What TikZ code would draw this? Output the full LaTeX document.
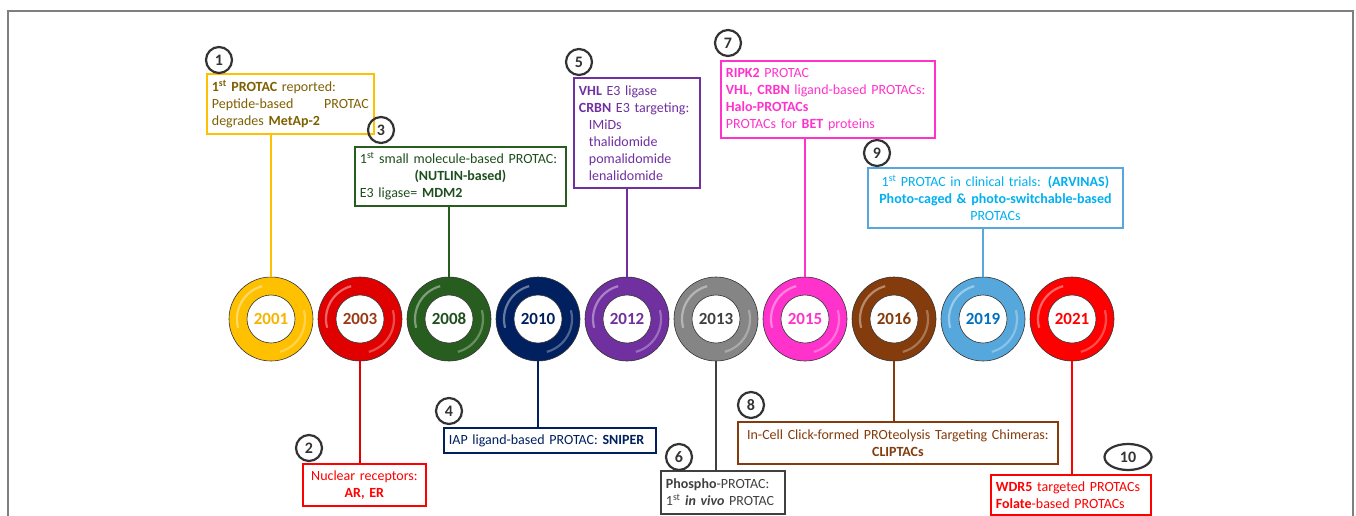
\documentclass[tikz,border=0pt]{standalone}
\usepackage{fontspec}
\setmainfont{Carlito}
\usetikzlibrary{shapes.geometric}

\definecolor{cGold}{HTML}{FFC000}
\definecolor{cGoldTxt}{HTML}{F5B400}
\definecolor{cOlive}{HTML}{7F6000}
\definecolor{cRedA}{HTML}{E00000}
\definecolor{cRust}{HTML}{9A3A14}
\definecolor{cGreen}{HTML}{275E1F}
\definecolor{cGreenTxt}{HTML}{1E4F1E}
\definecolor{cNavy}{HTML}{002060}
\definecolor{cPurple}{HTML}{7030A0}
\definecolor{cGray}{HTML}{858585}
\definecolor{cGrayTxt}{HTML}{404040}
\definecolor{cMagenta}{HTML}{FF33CC}
\definecolor{cBrown}{HTML}{843C0C}
\definecolor{cSky}{HTML}{56A8DC}
\definecolor{cSkyTxt}{HTML}{00B0F0}
\definecolor{cBlueTxt}{HTML}{0070C0}
\definecolor{cRed}{HTML}{FF0000}
\definecolor{cNum}{HTML}{333333}
\definecolor{cFrame}{HTML}{7F7F7F}

\tikzset{
  evbox/.style={draw=#1, line width=1.8pt, inner xsep=5pt, inner ysep=3pt,
    align=left, anchor=north west, fill=white,
    font=\fontsize{14}{17}\selectfont},
  numc/.style={circle, draw=cNum, line width=2.2pt, minimum size=26pt,
    inner sep=0pt, text=cNum, font=\fontsize{16}{16}\selectfont\bfseries},
  rim/.style={circle, draw=black!80, line width=0.6pt, fill=#1,
    minimum size=84pt, inner sep=0pt,
    path picture={
      \draw[white, opacity=0.4, line width=2.2pt]
        ([shift={(105:34pt)}]path picture bounding box.center)
        arc[start angle=105, end angle=195, radius=34pt];
      \draw[white, opacity=0.3, line width=2.2pt]
        ([shift={(285:34pt)}]path picture bounding box.center)
        arc[start angle=285, end angle=375, radius=34pt];}},
  hole/.style={circle, draw=black!80, line width=0.6pt, fill=white,
    minimum size=48pt, inner sep=0pt, text=#1,
    font=\fontsize{17}{17}\selectfont\bfseries},
  link/.style={draw=#1, line width=1.6pt},
}

\begin{document}
\begin{tikzpicture}[x=1pt, y=-1pt]
	\useasboundingbox (0,0) rectangle (1356,516);
	\draw[cFrame, line width=1.5pt] (8,516) -- (8,11) -- (1353,11) -- (1353,516);

	% the timeline
	\node[rim=cGold] (r2001) at (271,319) {};
	\node[hole=cGoldTxt] (y2001) at (r2001) {2001};
	\node[rim=cRedA] (r2003) at (360,319) {};
	\node[hole=cRust] (y2003) at (r2003) {2003};
	\node[rim=cGreen] (r2008) at (449,319) {};
	\node[hole=cGreenTxt] (y2008) at (r2008) {2008};
	\node[rim=cNavy] (r2010) at (538,319) {};
	\node[hole=cNavy] (y2010) at (r2010) {2010};
	\node[rim=cPurple] (r2012) at (627,319) {};
	\node[hole=cPurple] (y2012) at (r2012) {2012};
	\node[rim=cGray] (r2013) at (716,319) {};
	\node[hole=cGrayTxt] (y2013) at (r2013) {2013};
	\node[rim=cMagenta] (r2015) at (805,319) {};
	\node[hole=cMagenta] (y2015) at (r2015) {2015};
	\node[rim=cBrown] (r2016) at (894,319) {};
	\node[hole=cBrown] (y2016) at (r2016) {2016};
	\node[rim=cSky] (r2019) at (983,319) {};
	\node[hole=cBlueTxt] (y2019) at (r2019) {2019};
	\node[rim=cRed] (r2021) at (1072,319) {};
	\node[hole=cRed] (y2021) at (r2021) {2021};

	% boxes above
	\node[evbox=cGold, text=cOlive, text width=157pt, minimum height=60pt] (b1) at (206,73)
		{\textbf{1\textsuperscript{st} PROTAC} reported:\\ Peptide-based\hfill PROTAC\\ degrades \textbf{MetAp-2}};
	\node[numc] (n1) at (219,60) {1};
	\node[evbox=cGreen, text=cGreenTxt, text width=201pt, minimum height=59pt] (b3) at (354,146)
		{1\textsuperscript{st} small molecule-based PROTAC:\\ \leavevmode\hbox to \hsize{\hfil\textbf{(NUTLIN-based)}\hfil}\\ E3 ligase= \textbf{MDM2}};
	\node[numc] (n3) at (381,130) {3};
	\node[evbox=cPurple, text=cPurple, text width=116pt, minimum height=110pt] (b5) at (573,77)
		{\textbf{VHL} E3 ligase\\ \textbf{CRBN} E3 targeting:\\ \hspace*{10pt}IMiDs\\ \hspace*{10pt}thalidomide\\ \hspace*{10pt}pomalidomide\\ \hspace*{10pt}lenalidomide};
	\node[numc] (n5) at (579,62) {5};
	\node[evbox=cMagenta, text=cMagenta, text width=204pt, minimum height=77pt] (b7) at (720,60)
		{\textbf{RIPK2} PROTAC\\ \textbf{VHL, CRBN} ligand-based PROTACs:\\ \textbf{Halo-PROTACs}\\ PROTACs for \textbf{BET} proteins};
	\node[numc] (n7) at (728,43) {7};
	\node[evbox=cSky, text=cSkyTxt, align=center, text width=245pt, minimum height=60pt] (b9) at (867,167)
		{1\textsuperscript{st} PROTAC in clinical trials: \textbf{(ARVINAS)}\\ \textbf{Photo-caged \& photo-switchable-based}\\ PROTACs};
	\node[numc] (n9) at (877,153) {9};

	% boxes below
	\node[evbox=cRed, text=cRed, align=center, text width=113pt, minimum height=42pt] (b2) at (302,463)
		{Nuclear receptors:\\ \textbf{AR, ER}};
	\node[numc] (n2) at (309,448) {2};
	\node[evbox=cNavy, text=cNavy, text width=202pt, minimum height=25pt] (b4) at (443,427)
		{IAP ligand-based PROTAC: \textbf{SNIPER}};
	\node[numc] (n4) at (449,411) {4};
	\node[evbox=cGrayTxt, text=cGrayTxt, text width=114pt, minimum height=43pt] (b6) at (660,470)
		{\textbf{Phospho}-PROTAC:\\ 1\textsuperscript{st} \textbf{\textit{in vivo}} PROTAC};
	\node[numc] (n6) at (679,457) {6};
	\node[evbox=cBrown, text=cBrown, align=center, text width=310pt, minimum height=42pt] (b8) at (737,421)
		{In-Cell Click-formed PROteolysis Targeting Chimeras:\\ \textbf{CLIPTACs}};
	\node[numc] (n8) at (751,405) {8};
	\node[evbox=cRed, text=cRed, text width=150pt, minimum height=40pt] (b10) at (990,474)
		{\textbf{WDR5} targeted PROTACs\\ \textbf{Folate}-based PROTACs};
	\node[numc, ellipse, minimum width=47pt, minimum height=26pt] (n10) at (1128,457) {10};

	% links
	\draw[link=cGold] (r2001.north) -- (r2001.north |- b1.south);
	\draw[link=cGreen] (r2008.north) -- (r2008.north |- b3.south);
	\draw[link=cPurple] (r2012.north) -- (r2012.north |- b5.south);
	\draw[link=cMagenta] (r2015.north) -- (r2015.north |- b7.south);
	\draw[link=cSky] (r2019.north) -- (r2019.north |- b9.south);
	\draw[link=cRedA] (r2003.south) -- (r2003.south |- b2.north);
	\draw[link=cNavy] (r2010.south) -- (r2010.south |- b4.north);
	\draw[link=cGrayTxt] (r2013.south) -- (r2013.south |- b6.north);
	\draw[link=cBrown] (r2016.south) -- (r2016.south |- b8.north);
	\draw[link=cRed] (r2021.south) -- (r2021.south |- b10.north);
\end{tikzpicture}
\end{document}
